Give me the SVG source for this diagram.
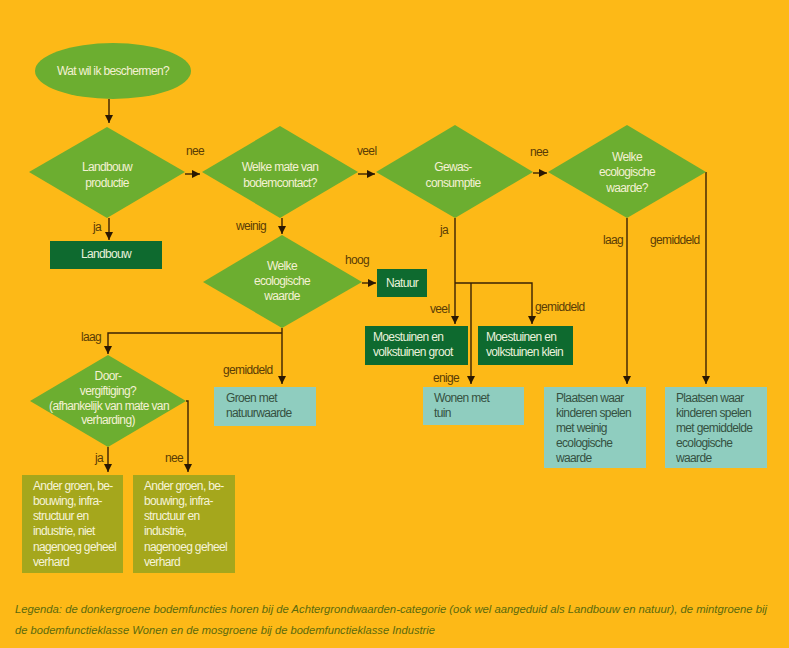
<svg xmlns="http://www.w3.org/2000/svg" width="789" height="648" viewBox="0 0 789 648">
<defs>
<style>
text{font-family:"Liberation Sans",Arial,sans-serif;font-size:12px;letter-spacing:-0.65px}
.dia{fill:#6CAE30}
.dt{fill:#F4F1D4;text-anchor:middle}
.dk{fill:#0E6A2F}
.dkt{fill:#EAF2DC}
.mint{fill:#8FCDBF}
.mt{fill:#35513F}
.moss{fill:#A5A71C}
.mst{fill:#F6F3D8}
.lbl{fill:#5A3C06}
.ln{fill:none;stroke:#3A2204;stroke-width:1.4}
.leg{fill:#5B6A0E;font-style:italic;font-size:10.8px;letter-spacing:0}
</style>
<marker id="ah" viewBox="0 0 10 10" refX="10" refY="5" markerWidth="8" markerHeight="8" markerUnits="userSpaceOnUse" orient="auto">
<path d="M0,0 L10,5 L0,10 z" fill="#2A1802"/>
</marker>
</defs>
<rect width="789" height="648" fill="#FDB917"/>

<g id="connectors">
<path class="ln" d="M109,99 V123" marker-end="url(#ah)"/>
<path class="ln" d="M109,218 V240" marker-end="url(#ah)"/>
<path class="ln" d="M185,174 H200" marker-end="url(#ah)"/>
<path class="ln" d="M282,218 V234" marker-end="url(#ah)"/>
<path class="ln" d="M358,174 H375" marker-end="url(#ah)"/>
<path class="ln" d="M533,173 H547" marker-end="url(#ah)"/>
<path class="ln" d="M627,218 V384" marker-end="url(#ah)"/>
<path class="ln" d="M706,172 V384" marker-end="url(#ah)"/>
<path class="ln" d="M455,218 V324" marker-end="url(#ah)"/>
<path class="ln" d="M455,283 H532 V324" marker-end="url(#ah)"/>
<path class="ln" d="M471,283 V384" marker-end="url(#ah)"/>
<path class="ln" d="M362,283 H376" marker-end="url(#ah)"/>
<path class="ln" d="M282,328 V384" marker-end="url(#ah)"/>
<path class="ln" d="M282,333 H108 V354" marker-end="url(#ah)"/>
<path class="ln" d="M108,447 V472" marker-end="url(#ah)"/>
<path class="ln" d="M186,401 H188 V472" marker-end="url(#ah)"/>
</g>

<g id="labels">
<text class="lbl" x="186" y="155">nee</text>
<text class="lbl" x="357" y="155">veel</text>
<text class="lbl" x="530" y="156">nee</text>
<text class="lbl" x="93" y="231">ja</text>
<text class="lbl" x="236" y="230">weinig</text>
<text class="lbl" x="440" y="234">ja</text>
<text class="lbl" x="603" y="244">laag</text>
<text class="lbl" x="650" y="244">gemiddeld</text>
<text class="lbl" x="345" y="264">hoog</text>
<text class="lbl" x="430" y="313">veel</text>
<text class="lbl" x="535" y="311">gemiddeld</text>
<text class="lbl" x="81" y="341">laag</text>
<text class="lbl" x="223" y="374">gemiddeld</text>
<text class="lbl" x="433" y="382">enige</text>
<text class="lbl" x="95" y="462">ja</text>
<text class="lbl" x="165" y="462">nee</text>
</g>

<g id="start">
<ellipse class="dia" cx="113" cy="71" rx="78" ry="28"/>
<text class="dt" x="113" y="75">Wat wil ik beschermen?</text>
</g>

<g id="d-landbouw">
<polygon class="dia" points="29,172 107,127 185,172 107,218"/>
<text class="dt" x="107" y="171">Landbouw</text>
<text class="dt" x="107" y="187">productie</text>
</g>

<g id="d-bodemcontact">
<polygon class="dia" points="202,172 280,126 358,172 280,218"/>
<text class="dt" x="280" y="171">Welke mate van</text>
<text class="dt" x="280" y="187">bodemcontact?</text>
</g>

<g id="d-gewas">
<polygon class="dia" points="376,172 455,125 533,172 455,218"/>
<text class="dt" x="453" y="171">Gewas-</text>
<text class="dt" x="453" y="187">consumptie</text>
</g>

<g id="d-ecologisch2">
<polygon class="dia" points="548,172 627,125 706,172 627,218"/>
<text class="dt" x="627" y="161">Welke</text>
<text class="dt" x="627" y="176">ecologische</text>
<text class="dt" x="627" y="192">waarde?</text>
</g>

<g id="d-ecologisch1">
<polygon class="dia" points="203,282 282,235 362,282 282,328"/>
<text class="dt" x="282" y="270">Welke</text>
<text class="dt" x="282" y="285">ecologische</text>
<text class="dt" x="282" y="300">waarde</text>
</g>

<g id="d-doorvergiftiging">
<polygon class="dia" points="30,401 108,355 186,401 108,447"/>
<text class="dt" x="108" y="380">Door-</text>
<text class="dt" x="108" y="395">vergiftiging?</text>
<text class="dt" x="109" y="410">(afhankelijk van mate van</text>
<text class="dt" x="108" y="424">verharding)</text>
</g>

<g id="b-landbouw">
<rect class="dk" x="50" y="241" width="112" height="28"/>
<text class="dkt" x="106" y="258" text-anchor="middle">Landbouw</text>
</g>

<g id="b-natuur">
<rect class="dk" x="377" y="269" width="50" height="28"/>
<text class="dkt" x="402" y="287" text-anchor="middle">Natuur</text>
</g>

<g id="b-moes-groot">
<rect class="dk" x="365" y="326" width="103" height="39"/>
<text class="dkt" x="373" y="341">Moestuinen en</text>
<text class="dkt" x="373" y="356">volkstuinen groot</text>
</g>

<g id="b-moes-klein">
<rect class="dk" x="478" y="326" width="95" height="39"/>
<text class="dkt" x="486" y="341">Moestuinen en</text>
<text class="dkt" x="486" y="356">volkstuinen klein</text>
</g>

<g id="b-groen">
<rect class="mint" x="214" y="387" width="102" height="39"/>
<text class="mt" x="226" y="402">Groen met</text>
<text class="mt" x="226" y="417">natuurwaarde</text>
</g>

<g id="b-wonen">
<rect class="mint" x="423" y="387" width="101" height="38"/>
<text class="mt" x="434" y="402">Wonen met</text>
<text class="mt" x="434" y="417">tuin</text>
</g>

<g id="b-plaatsen-weinig">
<rect class="mint" x="544" y="387" width="102" height="81"/>
<text class="mt" x="556" y="402">Plaatsen waar</text>
<text class="mt" x="556" y="417">kinderen spelen</text>
<text class="mt" x="556" y="432">met weinig</text>
<text class="mt" x="556" y="447">ecologische</text>
<text class="mt" x="556" y="462">waarde</text>
</g>

<g id="b-plaatsen-gemiddeld">
<rect class="mint" x="665" y="387" width="102" height="81"/>
<text class="mt" x="676" y="402">Plaatsen waar</text>
<text class="mt" x="676" y="417">kinderen spelen</text>
<text class="mt" x="676" y="432">met gemiddelde</text>
<text class="mt" x="676" y="447">ecologische</text>
<text class="mt" x="676" y="462">waarde</text>
</g>

<g id="b-ander-niet">
<rect class="moss" x="22" y="475" width="101" height="98"/>
<text class="mst" x="33" y="490">Ander groen, be-</text>
<text class="mst" x="33" y="505">bouwing, infra-</text>
<text class="mst" x="33" y="520">structuur en</text>
<text class="mst" x="33" y="535">industrie, niet</text>
<text class="mst" x="33" y="551">nagenoeg geheel</text>
<text class="mst" x="33" y="566">verhard</text>
</g>

<g id="b-ander-wel">
<rect class="moss" x="133" y="475" width="102" height="98"/>
<text class="mst" x="144" y="490">Ander groen, be-</text>
<text class="mst" x="144" y="505">bouwing, infra-</text>
<text class="mst" x="144" y="520">structuur en</text>
<text class="mst" x="144" y="535">industrie,</text>
<text class="mst" x="144" y="551">nagenoeg geheel</text>
<text class="mst" x="144" y="566">verhard</text>
</g>

<g id="legenda">
<text class="leg" x="15" y="613" textLength="752" lengthAdjust="spacingAndGlyphs">Legenda: de donkergroene bodemfuncties horen bij de Achtergrondwaarden-categorie (ook wel aangeduid als Landbouw en natuur), de mintgroene bij</text>
<text class="leg" x="15" y="634" textLength="420" lengthAdjust="spacingAndGlyphs">de bodemfunctieklasse Wonen en de mosgroene bij de bodemfunctieklasse Industrie</text>
</g>
</svg>
